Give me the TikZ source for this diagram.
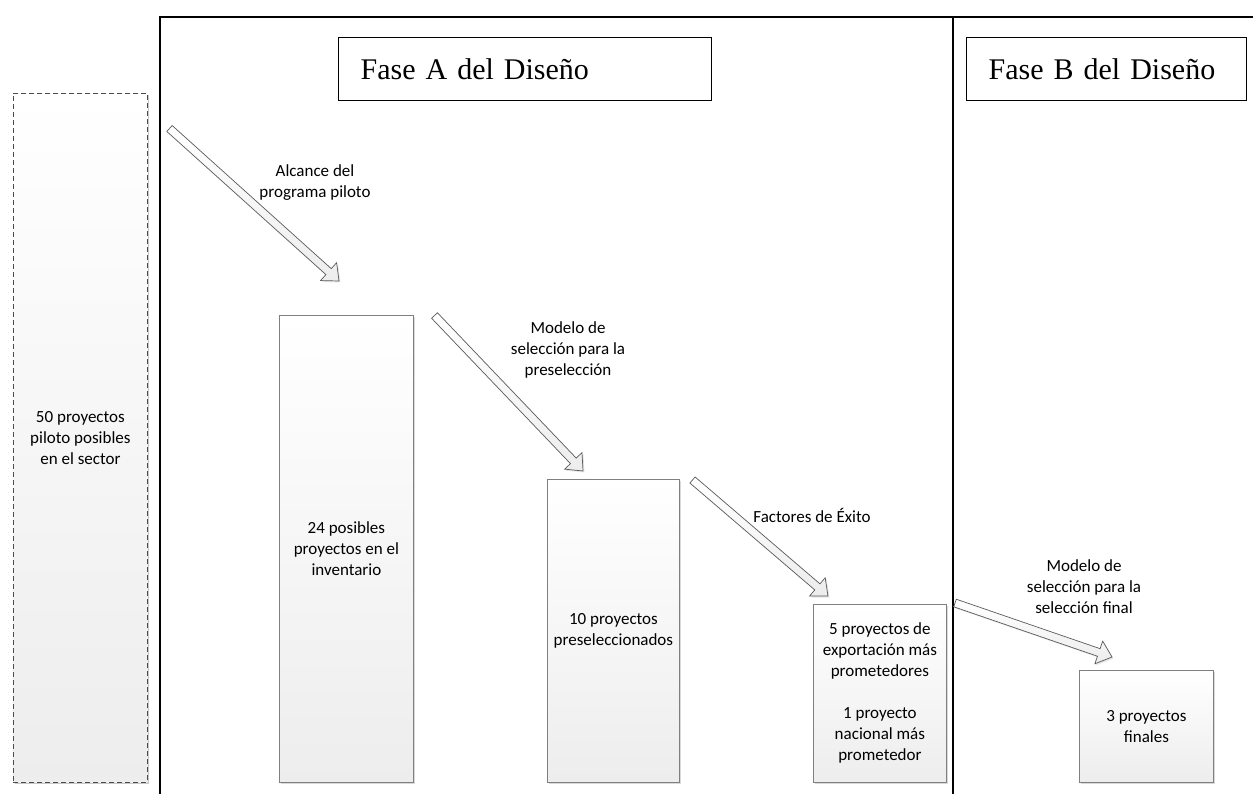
\documentclass[tikz,border=0pt]{standalone}
\usepackage{fontspec}
\newfontfamily\carlito{Carlito}
\newfontfamily\titlefont{Liberation Serif}
\usetikzlibrary{calc,shadows}
\definecolor{boxline}{HTML}{7F7F7F}
\definecolor{boxbot}{HTML}{EDEDED}
\definecolor{arrline}{HTML}{5A5A5A}
\newcommand\blockarrow[2]{%
  \coordinate (h-#1) at ($(#2)!14pt!(#1)$);
  \path[blockarr] ($(#1)!4pt!90:(#2)$) -- ($(h-#1)!4pt!90:(#2)$) -- ($(h-#1)!12pt!90:(#2)$) -- (#2)
    -- ($(h-#1)!12pt!-90:(#2)$) -- ($(h-#1)!4pt!-90:(#2)$) -- ($(#1)!4pt!-90:(#2)$) -- cycle;
}
\begin{document}
\begin{tikzpicture}[x=1pt,y=-1pt,
  lbl/.style={font=\carlito\fontsize{17}{21}\selectfont, align=center, text=black, inner sep=0pt},
  stagebox/.style={draw=boxline, line width=0.8pt, top color=white, bottom color=boxbot,
    anchor=north west, inner sep=0pt, align=center, font=\carlito\fontsize{17}{21}\selectfont,
    drop shadow={shadow xshift=2pt, shadow yshift=-2pt, opacity=0.3, fill=gray}},
  dashbox/.style={stagebox, draw=black!70, dashed, dash pattern=on 5pt off 3pt, drop shadow={shadow xshift=1.5pt, shadow yshift=-1.5pt, opacity=0.2, fill=gray}},
  titlebox/.style={draw=black, line width=1.3pt, anchor=north west, fill=white, inner ysep=0pt,
    inner xsep=22pt, align=left, font=\titlefont\fontsize{30}{32}\selectfont, minimum height=63pt},
  framel/.style={draw=black, line width=1.3pt},
  blockarr/.style={draw=arrline, line width=0.7pt, top color=white, bottom color=boxbot, line join=miter,
    drop shadow={shadow xshift=1.5pt, shadow yshift=-1.5pt, opacity=0.2, fill=gray}}
]
\useasboundingbox (0,0) rectangle (1253,794);
% frame
\coordinate (ftl) at (160,17);
\coordinate (ftr) at (1253,17);
\coordinate (fbl) at (160,794);
\coordinate (fmt) at (953,17);
\coordinate (fmb) at (953,794);
\draw[framel] (fbl) -- (ftl) -- (ftr);
\draw[framel, line width=1.8pt] (fmt) -- (fmb);
% titles
\node[titlebox, minimum width=373pt, text width=329pt] (ta) at (338,37) {\mbox{Fase A del Diseño}};
\node[titlebox, minimum width=280pt, text width=236pt] (tb) at (966,37) {\mbox{Fase B del Diseño}};
% boxes
\node[dashbox, minimum width=134pt, minimum height=689pt] (b50) at (13,93) {50 proyectos\\piloto posibles\\en el sector};
\node[stagebox, minimum width=134pt, minimum height=467pt] (b24) at (279,315) {24 posibles\\proyectos en el\\inventario};
\node[stagebox, minimum width=132pt, minimum height=303pt] (b10) at (547,479) {10 proyectos\\preseleccionados};
\node[stagebox, minimum width=133pt, minimum height=178pt] (b5) at (813,604) {5 proyectos de\\exportación más\\prometedores\\[21pt]1 proyecto\\nacional más\\prometedor};
\node[stagebox, minimum width=134pt, minimum height=112pt] (b3) at (1079,670) {3 proyectos\\finales};
% arrows
\coordinate (a1s) at (169.5,128.5);
\coordinate (a1e) at (339,281);
\coordinate (a2s) at (434.5,315.5);
\coordinate (a2e) at (583,471);
\coordinate (a3s) at (692.5,480);
\coordinate (a3e) at (828,596);
\coordinate (a4s) at (955,603);
\coordinate (a4e) at (1112,657);
\blockarrow{a1s}{a1e}
\blockarrow{a2s}{a2e}
\blockarrow{a3s}{a3e}
\blockarrow{a4s}{a4e}
% labels
\node[lbl] (l1) at (315,183) {Alcance del\\programa piloto};
\node[lbl] (l2) at (568,349.5) {Modelo de\\selección para la\\preselección};
\node[lbl] (l3) at (812,515) {Factores de Éxito};
\node[lbl] (l4) at (1084,587) {Modelo de\\selección para la\\selección final};
\end{tikzpicture}
\end{document}
